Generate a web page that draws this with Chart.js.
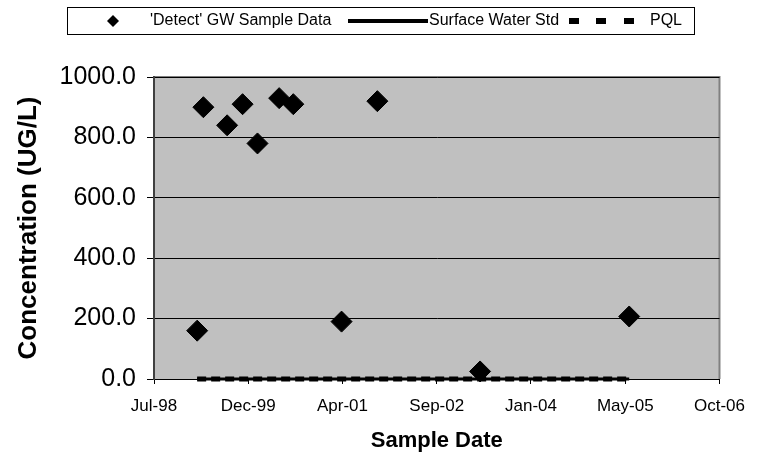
<!DOCTYPE html>
<html>
<head>
<meta charset="utf-8">
<script src="https://cdn.jsdelivr.net/npm/chart.js@4/dist/chart.umd.min.js"></script>
<style>
  html, body { margin: 0; padding: 0; background: #fff; }
  #wrap { width: 757px; height: 463px; }
</style>
</head>
<body>
<div id="wrap"><canvas id="myChart" width="757" height="463"></canvas></div>
<script>
// sample data
var sampleDates = ['1999-03-10', '1999-04-12', '1999-08-16', '1999-11-06', '2000-01-24',
                   '2000-05-18', '2000-08-01', '2001-04-14', '2001-10-21', '2003-04-19', '2005-06-18'];
var detectValues = [160, 900, 840, 910, 780, 930, 910, 190, 920, 25, 207];
var lineDates = ['1999-03-10', '2005-06-18'];
var surfaceStd = [0, 0];
var pqlValues = [0, 0];
var yTicks = [0, 200, 400, 600, 800, 1000];
var monthNames = ['Jan', 'Feb', 'Mar', 'Apr', 'May', 'Jun', 'Jul', 'Aug', 'Sep', 'Oct', 'Nov', 'Dec'];

// excel style day numbers so the axis steps like the original (500 days)
var DAY = 86400000;
var EPOCH = Date.UTC(1899, 11, 30);
function toSerial(s) {
    var p = s.split('-');
    return (Date.UTC(+p[0], +p[1] - 1, +p[2]) - EPOCH) / DAY;
}
function serialLabel(v) {
    var d = new Date(EPOCH + v * DAY);
    var yy = String(d.getUTCFullYear() % 100);
    if (yy.length < 2) yy = '0' + yy;
    return monthNames[d.getUTCMonth()] + '-' + yy;
}
function pairs(dates, vals) {
    return dates.map(function (d, i) { return {x: toSerial(d), y: vals[i]}; });
}

var FONT = "'Liberation Sans', Arial, sans-serif";

var plotFrame = {
    id: 'plotFrame',
    beforeDraw: function (chart) {
        var a = chart.chartArea, ctx = chart.ctx;
        ctx.save();
        ctx.fillStyle = '#c0c0c0';
        ctx.fillRect(a.left, a.top, a.right - a.left, a.bottom - a.top);
        ctx.strokeStyle = '#808080';
        ctx.lineWidth = 2;
        ctx.beginPath();
        ctx.moveTo(a.left, a.top);
        ctx.lineTo(a.right, a.top);
        ctx.lineTo(a.right, a.bottom);
        ctx.stroke();
        ctx.restore();
    },
    afterDraw: function (chart) {
        var ctx = chart.ctx;
        ctx.save();
        // legend box like the excel one
        ctx.strokeStyle = '#000';
        ctx.lineWidth = 1;
        ctx.fillStyle = '#fff';
        ctx.fillRect(67.5, 7.5, 627, 27);
        ctx.strokeRect(67.5, 7.5, 627, 27);
        var cy = 21;
        ctx.fillStyle = '#000';
        ctx.beginPath();
        ctx.moveTo(113, cy - 6); ctx.lineTo(119, cy); ctx.lineTo(113, cy + 6); ctx.lineTo(107, cy);
        ctx.closePath();
        ctx.fill();
        ctx.fillRect(348, cy - 2, 80, 4);
        ctx.fillRect(569, cy - 3, 10, 6);
        ctx.fillRect(596, cy - 3, 10, 6);
        ctx.fillRect(624, cy - 3, 10, 6);
        ctx.font = '16px ' + FONT;
        ctx.textBaseline = 'middle';
        ctx.fillText(chart.data.datasets[0].label, 150, cy);
        ctx.fillText(chart.data.datasets[1].label, 429, cy);
        ctx.fillText(chart.data.datasets[2].label, 650, cy);
        ctx.restore();
    }
};

var ctx = document.getElementById('myChart').getContext('2d');
var chart = new Chart(ctx, {
    type: 'scatter',
    data: {
        datasets: [{
            label: "'Detect' GW Sample Data",
            data: pairs(sampleDates, detectValues),
            pointStyle: 'rectRot',
            pointRadius: 10.5,
            backgroundColor: '#000',
            borderColor: '#000',
            borderWidth: 1,
            showLine: false,
            clip: false
        }, {
            label: 'Surface Water Std',
            data: pairs(lineDates, surfaceStd),
            showLine: true,
            borderColor: '#000',
            borderWidth: 3,
            pointRadius: 0,
            clip: false
        }, {
            label: 'PQL',
            data: pairs(lineDates, pqlValues),
            showLine: true,
            borderColor: '#000',
            borderWidth: 5,
            borderDash: [9, 5],
            pointRadius: 0,
            clip: false
        }]
    },
    plugins: [plotFrame],
    options: {
        responsive: false,
        animation: false,
        layout: {padding: {top: 77, right: 31, left: 0, bottom: 0}},
        plugins: {
            legend: {display: false},
            tooltip: {enabled: false}
        },
        scales: {
            x: {
                type: 'linear',
                min: 36000,
                max: 39000,
                afterBuildTicks: function (scale) {
                    var t = [];
                    for (var v = 36000; v <= 39000; v += 500) t.push({value: v});
                    scale.ticks = t;
                },
                afterFit: function (scale) { scale.height = 84; },
                border: {color: '#000', width: 1},
                grid: {drawOnChartArea: false, color: '#000', tickLength: 5},
                ticks: {
                    color: '#000',
                    font: {family: FONT, size: 17},
                    padding: 12,
                    maxRotation: 0,
                    callback: function (v) { return serialLabel(v); }
                },
                title: {
                    display: true,
                    text: 'Sample Date',
                    color: '#000',
                    font: {family: FONT, size: 22, weight: 'bold'},
                    padding: {bottom: 9}
                }
            },
            y: {
                min: 0,
                max: 1000,
                afterBuildTicks: function (scale) {
                    scale.ticks = yTicks.map(function (v) { return {value: v}; });
                },
                afterFit: function (scale) { scale.width = 154; },
                border: {color: '#404040', width: 2},
                grid: {color: '#000', lineWidth: 1, tickLength: 7, drawTicks: true},
                ticks: {
                    color: '#000',
                    font: {family: FONT, size: 25},
                    padding: 11,
                    callback: function (v) { return v.toFixed(1); }
                },
                title: {
                    display: true,
                    text: 'Concentration (UG/L)',
                    color: '#000',
                    font: {family: FONT, size: 26, weight: 'bold'},
                    padding: {top: 13}
                }
            }
        }
    }
});
</script>
</body>
</html>
